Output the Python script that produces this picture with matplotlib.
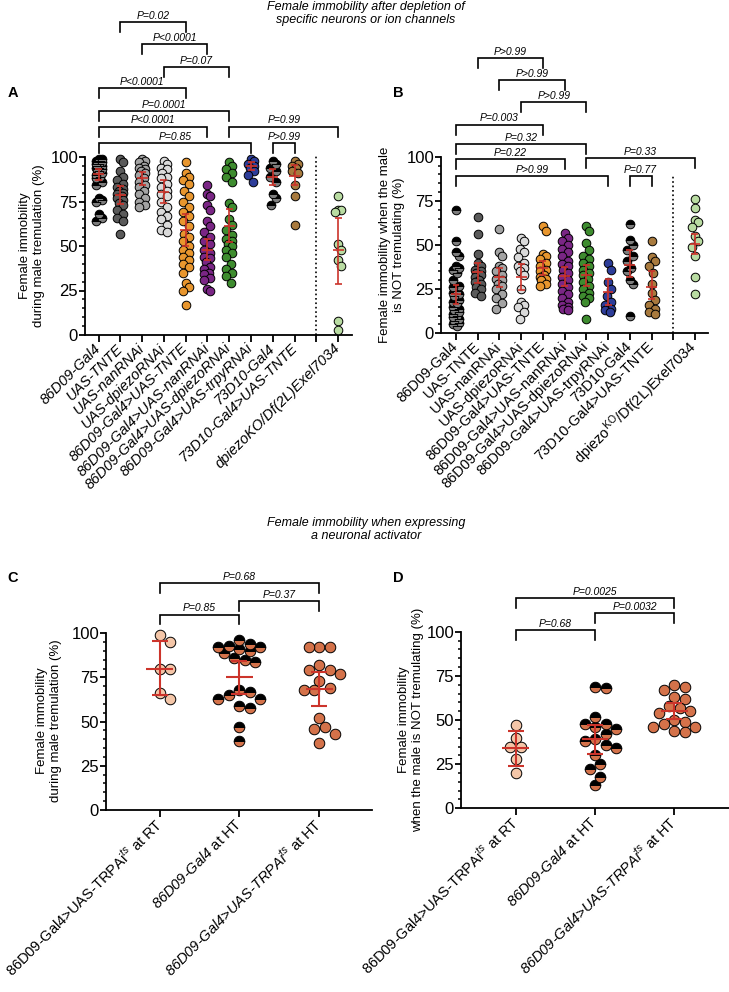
import numpy as np
import matplotlib
matplotlib.use('Agg')
import matplotlib.pyplot as plt
from matplotlib.ticker import MultipleLocator

plt.rcParams['font.family'] = ['Liberation Sans', 'DejaVu Sans']
plt.rcParams['mathtext.fontset'] = 'custom'
plt.rcParams['mathtext.rm'] = 'Liberation Sans'
plt.rcParams['mathtext.it'] = 'Liberation Sans:italic'
plt.rcParams['mathtext.bf'] = 'Liberation Sans:bold'

# ---------------- panel A: immobility during male tremulation ----------------
a_labels = ['86D09-Gal4', 'UAS-TNTE', 'UAS-nanRNAi', 'UAS-dpiezoRNAi',
            '86D09-Gal4>UAS-TNTE', '86D09-Gal4>UAS-nanRNAi',
            '86D09-Gal4>UAS-dpiezoRNAi', '86D09-Gal4>UAS-trpyRNAi',
            '73D10-Gal4', '73D10-Gal4>UAS-TNTE', '', 'dpiezoKO/Df(2L)Exel7034']
a_gal4 = [99, 99, 98, 98, 98, 97, 97, 96, 96, 95, 95, 94, 94, 93, 93, 92, 91,
          90, 89, 88, 86, 84, 77, 76, 75, 68, 66, 64]
a_tnte = [99, 97, 92, 89, 87, 85, 83, 82, 81, 80, 79, 78, 77, 76, 74, 73, 70,
          68, 66, 64, 57]
a_nan = [99, 98, 97, 95, 94, 93, 92, 91, 90, 88, 86, 84, 83, 81, 79, 77, 75, 73, 72]
a_piezo = [98, 96, 94, 93, 91, 89, 88, 85, 83, 81, 79, 78, 75, 72, 69, 67, 65,
           62, 59, 58]
a_86_tnte = [97, 91, 89, 87, 85, 81, 78, 75, 72, 69, 67, 64, 61, 57, 55, 53, 50,
             48, 46, 44, 42, 40, 38, 35, 29, 27, 25, 17]
a_86_nan = [84, 79, 78, 73, 70, 64, 61, 58, 55, 53, 51, 48, 46, 44, 43, 41, 38,
            37, 35, 34, 32, 31, 26, 25]
a_86_piezo = [97, 95, 93, 91, 89, 86, 74, 72, 65, 62, 59, 56, 54, 53, 51, 50, 48,
              46, 44, 40, 37, 35, 33, 29]
a_86_trpy = [99, 98, 96, 95, 94, 92, 90, 86]
a_73_gal4 = [98, 96, 94, 92, 89, 86, 79, 77, 73]
a_73_tnte = [98, 96, 95, 94, 92, 91, 84, 78, 62]
a_ko = [78, 70, 70, 69, 51, 48, 42, 39, 8, 3]
a_mean = [90.5, 78.5, 88, 80.5, 59, 48, 61.5, 95, 89, 89.5, 47.5]
a_lo = [87, 73.5, 84, 74, 50, 42, 52, 92.5, 84, 84, 28.5]
a_hi = [93.5, 83.5, 91.5, 87, 68, 54, 71, 97.2, 93.5, 95.3, 66]

# ---------------- panel B: immobility when male is not tremulating ----------
b_labels = ['86D09-Gal4', 'UAS-TNTE', 'UAS-nanRNAi', 'UAS-dpiezoRNAi',
            '86D09-Gal4>UAS-TNTE', '86D09-Gal4>UAS-nanRNAi',
            '86D09-Gal4>UAS-dpiezoRNAi', '86D09-Gal4>UAS-trpyRNAi',
            '73D10-Gal4', '73D10-Gal4>UAS-TNTE', '',
            r'dpiezo$^{\mathrm{KO}}$/Df(2L)Exel7034']
b_gal4 = [70, 52, 46, 44, 38, 37, 36, 34, 30, 27, 26, 24, 23, 22, 21, 19, 18,
          17, 15, 14, 13, 12, 11, 10, 9, 8, 7, 6, 5, 4]
b_tnte = [66, 56, 45, 40, 38, 36, 35, 34, 33, 32, 30, 29, 28, 26, 25, 23, 21]
b_nan = [59, 46, 44, 38, 37, 35, 33, 31, 30, 28, 27, 25, 22, 20, 17, 14]
b_piezo = [54, 52, 48, 46, 43, 40, 38, 37, 35, 33, 25, 18, 16, 15, 12, 8]
b_86_tnte = [61, 58, 45, 44, 42, 40, 38, 36, 35, 33, 32, 31, 30, 28, 27]
b_86_nan = [57, 54, 52, 50, 48, 46, 44, 41, 39, 38, 36, 34, 32, 30, 28, 26, 24,
            22, 20, 18, 16, 15, 14, 13]
b_86_piezo = [61, 58, 51, 47, 44, 42, 40, 38, 36, 34, 33, 31, 29, 27, 25, 23, 21,
              20, 18, 8]
b_86_trpy = [40, 36, 29, 25, 21, 18, 16, 14, 13, 12]
b_73_gal4 = [62, 53, 50, 47, 44, 41, 37, 35, 30, 28, 10]
b_73_tnte = [52, 43, 41, 38, 34, 28, 23, 19, 16, 14, 12, 11]
b_ko = [76, 71, 64, 63, 60, 55, 52, 49, 44, 32, 22]
b_mean = [22.3, 34.9, 32, 32, 36.8, 32.5, 33, 23.6, 38.7, 26.4, 50.8]
b_lo = [16.6, 28.3, 26.4, 24.5, 33, 27, 26.8, 16, 32, 19.2, 45]
b_hi = [27.4, 40, 36.8, 39, 41, 37.7, 38.7, 31, 47, 35.5, 56]

# ---------------- panels C and D: TRPA1 activation ----------------
cd_labels = [r'86D09-Gal4>UAS-TRPAi$^{ts}$ at RT',
             r'86D09-Gal4 $\mathrm{at\ HT}$',
             r'86D09-Gal4>UAS-TRPAi$^{ts}$ $\mathrm{at\ HT}$']
cd_italic = [False, True, True]
c_rt = [99, 95, 80, 80, 66, 63]
c_gal4 = [96, 94, 93, 92, 92, 91, 90, 89, 86, 85, 84, 68, 67, 65, 63, 63, 59,
          58, 47, 39]
c_trpa = [92, 92, 92, 82, 79, 79, 77, 73, 69, 68, 68, 52, 47, 46, 43, 38]
c_mean = [80, 75, 68.5]
c_lo = [65, 65.5, 59]
c_hi = [95.5, 84.3, 78.3]

d_rt = [47, 40, 35, 35, 28, 20]
d_gal4 = [69, 68, 52, 48, 48, 46, 45, 42, 39, 38, 36, 34, 30, 25, 22, 18, 13]
d_trpa = [70, 69, 67, 63, 62, 58, 57, 55, 54, 50, 49, 48, 46, 46, 44, 43]
d_mean = [34, 39.2, 55]
d_lo = [24, 31, 50.6]
d_hi = [43.8, 47, 59.8]

RED = '#cc342b'
GRP_COLORS = ['black', '#5a5a5a', '#a3a3a3', '#dadada', '#e8962e', '#7a2685',
              '#3e8c2f', '#2d3d99', 'black', '#a87a3e', None, '#b9dca2']
ALT = '#7d7d7d'
PEACH = '#f4c6a8'
ORANGE = '#d4724a'

fig = plt.figure(figsize=(7.29, 9.92), dpi=100)


def px_axes(l, t, r, b):
    return fig.add_axes([l / 729, 1 - b / 992, (r - l) / 729, (b - t) / 992])


def base_style(ax, xlim, ticks, labels, fs, italic):
    ax.set_xlim(*xlim)
    ax.set_ylim(0, 100)
    for s in ['top', 'right']:
        ax.spines[s].set_visible(False)
    for s in ['left', 'bottom']:
        ax.spines[s].set_linewidth(1.3)
    ax.yaxis.set_major_locator(MultipleLocator(25))
    ax.yaxis.set_minor_locator(MultipleLocator(5))
    ax.tick_params(axis='y', which='major', length=4.5, width=1.3, labelsize=12, pad=0.5)
    ax.tick_params(axis='y', which='minor', length=2.5, width=1.1)
    ax.tick_params(axis='x', length=5, width=1.3, pad=3)
    ax.set_xticks(ticks)
    ax.set_xticklabels(labels, rotation=45, ha='right', va='center',
                       rotation_mode='anchor', fontsize=fs)
    for lab, it in zip(ax.get_xticklabels(), italic):
        lab.set_style('italic' if it else 'normal')


def swarm(ax, xc, vals, diam, maxoff, step):
    t = ax.transData
    x0 = t.transform((xc, 0))[0]
    sx = t.transform((xc + 1, 0))[0] - x0
    cands = [0.0]
    k = 1
    while k * step <= maxoff + 1e-9:
        cands += [k * step, -k * step]
        k += 1
    placed, out = [], []
    for v in vals:
        y = t.transform((xc, v))[1]
        best, bestd = 0.0, -1
        for c in cands:
            d = min([np.hypot(c - px, y - py) for px, py in placed] or [1e9])
            if d >= diam * 0.95:
                best = c
                break
            if d > bestd:
                best, bestd = c, d
        placed.append((best, y))
        out.append(xc + best / sx)
    return out


def points(ax, xc, vals, color, ms, diam, maxoff, step, alt=None):
    xs = swarm(ax, xc, vals, diam, maxoff, step)
    if alt is None:
        ax.plot(xs, vals, 'o', ls='none', ms=ms, mfc=color, mec='black',
                mew=0.7, clip_on=False, zorder=3)
    else:
        ax.plot(xs, vals, 'o', ls='none', ms=ms, mfc=color, mfcalt=alt,
                fillstyle='top', mec='black', mew=0.7, clip_on=False, zorder=3)


def mean_ci(ax, x, m, lo, hi, hw, cw, lw):
    kw = dict(color=RED, lw=lw, zorder=5, clip_on=False, solid_capstyle='butt')
    ax.plot([x, x], [lo, hi], **kw)
    ax.plot([x - hw, x + hw], [m, m], **kw)
    for v in (lo, hi):
        ax.plot([x - cw, x + cw], [v, v], **kw)


def bracket(ax, x1, x2, y, txt, leg=5.5, fs=7.5):
    ax.plot([x1, x1, x2, x2], [y - leg, y, y, y - leg], color='black', lw=1.2,
            clip_on=False, solid_joinstyle='miter')
    ax.text((x1 + x2) / 2, y + 0.8, txt, ha='center', va='bottom', fontsize=fs,
            style='italic', clip_on=False)


def ylab(x, y, txt):
    fig.text(x / 729, 1 - y / 992, txt, rotation=90, ha='center', va='center',
             fontsize=9.5, multialignment='center', linespacing=1.15)


# ---------------- draw A ----------------
axA = px_axes(85, 157, 352, 335)
base_style(axA, (-0.62, 11.63), range(12), a_labels, 10.5, [True] * 12)
a_groups = [a_gal4, a_tnte, a_nan, a_piezo, a_86_tnte, a_86_nan, a_86_piezo,
            a_86_trpy, a_73_gal4, a_73_tnte, None, a_ko]
k = 0
for i, vals in enumerate(a_groups):
    if vals is None:
        continue
    alt = ALT if i in (0, 8) else None
    points(axA, i, vals, GRP_COLORS[i], 6.2, 8.6, 4, 1.5, alt)
    mean_ci(axA, i, a_mean[k], a_lo[k], a_hi[k], 0.25, 0.16, 1.2)
    k += 1
axA.plot([10, 10], [0, 101], ls=':', color='black', lw=1.2, clip_on=False)
for x1, x2, y, t in [(1, 4, 175.8, 'P=0.02'), (2, 5, 163.5, 'P<0.0001'),
                     (3, 6, 150.6, 'P=0.07'), (0, 4, 138.8, 'P<0.0001'),
                     (0, 6, 125.8, 'P=0.0001'), (0, 5, 116.9, 'P<0.0001'),
                     (0, 7, 107.9, 'P=0.85'), (6, 11, 116.9, 'P=0.99'),
                     (8, 9, 107.9, 'P>0.99')]:
    bracket(axA, x1, x2, y, t)
ylab(32, 246, 'Female immobility\nduring male tremulation (%)')

# ---------------- draw B ----------------
axB = px_axes(441, 156.7, 708, 333.3)
base_style(axB, (-0.69, 11.6), range(12), b_labels, 10.5, [False] * 12)
b_groups = [b_gal4, b_tnte, b_nan, b_piezo, b_86_tnte, b_86_nan, b_86_piezo,
            b_86_trpy, b_73_gal4, b_73_tnte, None, b_ko]
k = 0
for i, vals in enumerate(b_groups):
    if vals is None:
        continue
    alt = ALT if i in (0, 8) else None
    points(axB, i, vals, GRP_COLORS[i], 6.2, 8.6, 4, 1.5, alt)
    mean_ci(axB, i, b_mean[k], b_lo[k], b_hi[k], 0.25, 0.16, 1.2)
    k += 1
axB.plot([10, 10], [0, 90], ls=':', color='black', lw=1.2, clip_on=False)
for x1, x2, y, t in [(1, 4, 155.7, 'P>0.99'), (2, 5, 143.4, 'P>0.99'),
                     (3, 6, 131, 'P>0.99'), (0, 4, 118, 'P=0.003'),
                     (0, 6, 107, 'P=0.32'), (0, 5, 98.5, 'P=0.22'),
                     (0, 7, 89, 'P>0.99'), (6, 11, 99, 'P=0.33'),
                     (8, 9, 89, 'P=0.77')]:
    bracket(axB, x1, x2, y, t)
ylab(392, 245, 'Female immobility when the male\nis NOT tremulating (%)')

# ---------------- draw C ----------------
axC = px_axes(106, 633.3, 372, 810)
base_style(axC, (-0.67, 2.66), range(3), cd_labels, 10.5, cd_italic)
for i, (vals, col, alt) in enumerate([(c_rt, PEACH, None), (c_gal4, 'black', ORANGE),
                                      (c_trpa, ORANGE, None)]):
    points(axC, i, vals, col, 7.6, 10.5, 30, 5.25, alt)
    mean_ci(axC, i, c_mean[i], c_lo[i], c_hi[i], 0.17, 0.1, 1.5)
for x1, x2, y, t in [(0, 2, 128.4, 'P=0.68'), (1, 2, 118.3, 'P=0.37'),
                     (0, 1, 110.5, 'P=0.85')]:
    bracket(axC, x1, x2, y, t)
ylab(49, 721, 'Female immobility\nduring male tremulation (%)')

# ---------------- draw D ----------------
axD = px_axes(461, 631.8, 729, 808.3)
base_style(axD, (-0.69, 2.69), range(3), cd_labels, 10.5, cd_italic)
for i, (vals, col, alt) in enumerate([(d_rt, PEACH, None), (d_gal4, 'black', ORANGE),
                                      (d_trpa, ORANGE, None)]):
    points(axD, i, vals, col, 7.6, 10.5, 30, 5.25, alt)
    mean_ci(axD, i, d_mean[i], d_lo[i], d_hi[i], 0.17, 0.1, 1.5)
for x1, x2, y, t in [(0, 2, 119, 'P=0.0025'), (1, 2, 110.5, 'P=0.0032'),
                     (0, 1, 101, 'P=0.68')]:
    bracket(axD, x1, x2, y, t)
ylab(411, 720, 'Female immobility\nwhen the male is NOT tremulating (%)')

# ---------------- titles and panel letters ----------------
fig.text(366 / 729, 1 - 1 / 992, 'Female immobility after depletion of\nspecific neurons or ion channels',
         ha='center', va='top', style='italic', fontsize=9, linespacing=1.15)
fig.text(366 / 729, 1 - 517 / 992, 'Female immobility when expressing\na neuronal activator',
         ha='center', va='top', style='italic', fontsize=9, linespacing=1.15)
for x, y, t in [(13, 93, 'A'), (398, 93, 'B'), (13, 578, 'C'), (398, 578, 'D')]:
    fig.text(x / 729, 1 - y / 992, t, ha='center', va='center', fontsize=10.5,
             fontweight='bold')

fig.savefig('out.png', dpi=100)
